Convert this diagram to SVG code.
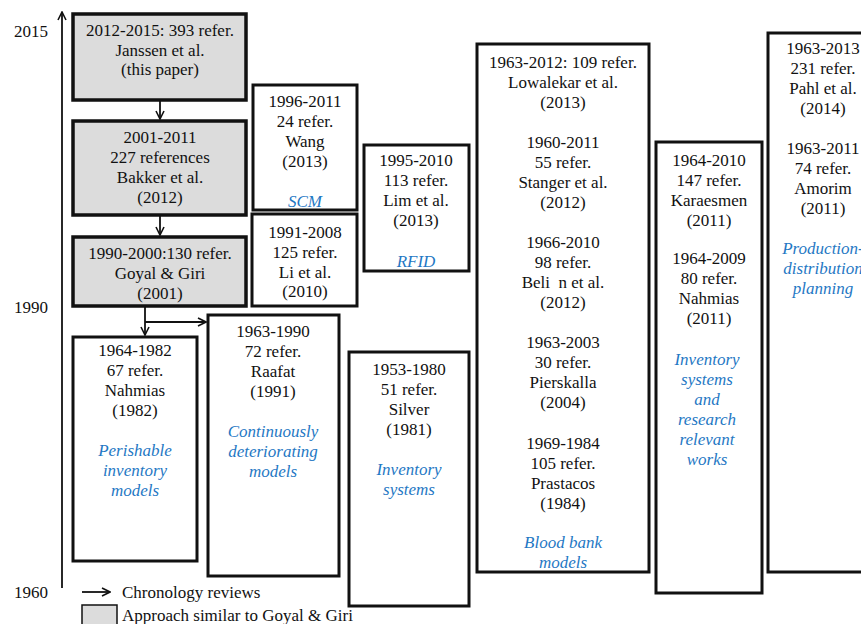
<svg xmlns="http://www.w3.org/2000/svg" width="861" height="624" viewBox="0 0 861 624" font-family="'Liberation Serif', 'DejaVu Serif', serif">
<defs>
<style>
text{font-family:'Liberation Serif','DejaVu Serif',serif;font-size:17px;fill:#111;text-anchor:middle;dominant-baseline:central}
.b{fill:#fff;stroke:#111;stroke-width:3}
.g{fill:#dcdcdc;stroke:#111;stroke-width:3.5}
.t{fill:#1f78c4;font-style:italic}
.l{text-anchor:start}
.ax{text-anchor:start}
.c{fill:none;stroke:#111;stroke-width:1.8}
</style>
<marker id="ah" viewBox="0 0 10 10" refX="9" refY="5" markerWidth="10" markerHeight="10" markerUnits="userSpaceOnUse" orient="auto">
<path d="M1,1 L9,5 L1,9" fill="none" stroke="#111" stroke-width="1.6"/>
</marker>
</defs>
<rect width="861" height="624" fill="#fff"/>

<g id="axis">
<line class="c" x1="62" y1="588" x2="62" y2="12" marker-end="url(#ah)"/>
<text class="ax" x="14" y="31">2015</text>
<text class="ax" x="14" y="307">1990</text>
<text class="ax" x="14" y="592">1960</text>
</g>

<g id="connectors">
<line class="c" x1="160" y1="101" x2="160" y2="119" marker-end="url(#ah)"/>
<line class="c" x1="160" y1="216" x2="160" y2="235" marker-end="url(#ah)"/>
<line class="c" x1="145" y1="307" x2="145" y2="335" marker-end="url(#ah)"/>
<line class="c" x1="145" y1="322" x2="206" y2="322" marker-end="url(#ah)"/>
</g>

<g id="janssen">
<rect class="g" x="73" y="14" width="173" height="86"/>
<text x="160" y="30">2012-2015: 393 refer.</text>
<text x="160" y="50">Janssen et al.</text>
<text x="160" y="69">(this paper)</text>
</g>

<g id="bakker">
<rect class="g" x="73" y="121" width="173" height="94"/>
<text x="160" y="137">2001-2011</text>
<text x="160" y="157">227 references</text>
<text x="160" y="177">Bakker et al.</text>
<text x="160" y="197">(2012)</text>
</g>

<g id="goyal">
<rect class="g" x="73" y="237" width="173" height="69"/>
<text x="160" y="253">1990-2000:130 refer.</text>
<text x="160" y="273">Goyal &amp; Giri</text>
<text x="160" y="293">(2001)</text>
</g>

<g id="nahmias1982">
<rect class="b" x="73" y="337" width="124" height="224"/>
<text x="135" y="350">1964-1982</text>
<text x="135" y="370">67 refer.</text>
<text x="135" y="390">Nahmias</text>
<text x="135" y="410">(1982)</text>
<text class="t" x="135" y="450">Perishable</text>
<text class="t" x="135" y="470">inventory</text>
<text class="t" x="135" y="490">models</text>
</g>

<g id="raafat">
<rect class="b" x="208" y="315" width="131" height="261"/>
<text x="273" y="331">1963-1990</text>
<text x="273" y="351">72 refer.</text>
<text x="273" y="371">Raafat</text>
<text x="273" y="391">(1991)</text>
<text class="t" x="273" y="431">Continuously</text>
<text class="t" x="273" y="451">deteriorating</text>
<text class="t" x="273" y="471">models</text>
</g>

<g id="wang">
<rect class="b" x="253" y="85" width="104" height="125"/>
<text x="305" y="101">1996-2011</text>
<text x="305" y="121">24 refer.</text>
<text x="305" y="141">Wang</text>
<text x="305" y="161">(2013)</text>
<text class="t" x="305" y="201">SCM</text>
</g>

<g id="li">
<rect class="b" x="252" y="214" width="105" height="92"/>
<text x="305" y="232">1991-2008</text>
<text x="305" y="252">125 refer.</text>
<text x="305" y="272">Li et al.</text>
<text x="305" y="291">(2010)</text>
</g>

<g id="lim">
<rect class="b" x="364" y="145" width="105" height="126"/>
<text x="416" y="160">1995-2010</text>
<text x="416" y="180">113 refer.</text>
<text x="416" y="200">Lim et al.</text>
<text x="416" y="220">(2013)</text>
<text class="t" x="416" y="261">RFID</text>
</g>

<g id="silver">
<rect class="b" x="349" y="352" width="120" height="254"/>
<text x="409" y="369">1953-1980</text>
<text x="409" y="389">51 refer.</text>
<text x="409" y="409">Silver</text>
<text x="409" y="429">(1981)</text>
<text class="t" x="409" y="469">Inventory</text>
<text class="t" x="409" y="489">systems</text>
</g>

<g id="bloodbank">
<rect class="b" x="477" y="44" width="172" height="528"/>
<text x="563" y="62">1963-2012: 109 refer.</text>
<text x="563" y="82">Lowalekar et al.</text>
<text x="563" y="102">(2013)</text>
<text x="563" y="142">1960-2011</text>
<text x="563" y="162">55 refer.</text>
<text x="563" y="182">Stanger et al.</text>
<text x="563" y="202">(2012)</text>
<text x="563" y="242">1966-2010</text>
<text x="563" y="262">98 refer.</text>
<text x="563" y="282">Beli&#160;&#160;n et al.</text>
<text x="563" y="302">(2012)</text>
<text x="563" y="342">1963-2003</text>
<text x="563" y="362">30 refer.</text>
<text x="563" y="382">Pierskalla</text>
<text x="563" y="402">(2004)</text>
<text x="563" y="443">1969-1984</text>
<text x="563" y="463">105 refer.</text>
<text x="563" y="483">Prastacos</text>
<text x="563" y="503">(1984)</text>
<text class="t" x="563" y="542">Blood bank</text>
<text class="t" x="563" y="562">models</text>
</g>

<g id="karaesmen">
<rect class="b" x="656" y="142" width="106" height="451"/>
<text x="709" y="160">1964-2010</text>
<text x="709" y="180">147 refer.</text>
<text x="709" y="200">Karaesmen</text>
<text x="709" y="220">(2011)</text>
<text x="709" y="258">1964-2009</text>
<text x="709" y="278">80 refer.</text>
<text x="709" y="298">Nahmias</text>
<text x="709" y="318">(2011)</text>
<text class="t" x="707" y="359">Inventory</text>
<text class="t" x="707" y="379">systems</text>
<text class="t" x="707" y="399">and</text>
<text class="t" x="707" y="419">research</text>
<text class="t" x="707" y="439">relevant</text>
<text class="t" x="707" y="459">works</text>
</g>

<g id="pahl">
<rect class="b" x="768" y="33" width="100" height="539"/>
<text x="823" y="48">1963-2013</text>
<text x="823" y="68">231 refer.</text>
<text x="823" y="88">Pahl et al.</text>
<text x="823" y="108">(2014)</text>
<text x="823" y="148">1963-2011</text>
<text x="823" y="168">74 refer.</text>
<text x="823" y="188">Amorim</text>
<text x="823" y="208">(2011)</text>
<text class="t" x="823" y="248">Production-</text>
<text class="t" x="823" y="268">distribution</text>
<text class="t" x="823" y="288">planning</text>
</g>

<g id="legend">
<line class="c" x1="82" y1="592" x2="110" y2="592" marker-end="url(#ah)"/>
<text class="l" x="122" y="592">Chronology reviews</text>
<rect x="82" y="605" width="35" height="24" fill="#dcdcdc" stroke="#111" stroke-width="1.5"/>
<text class="l" x="122" y="615">Approach similar to Goyal &amp; Giri</text>
</g>
</svg>
